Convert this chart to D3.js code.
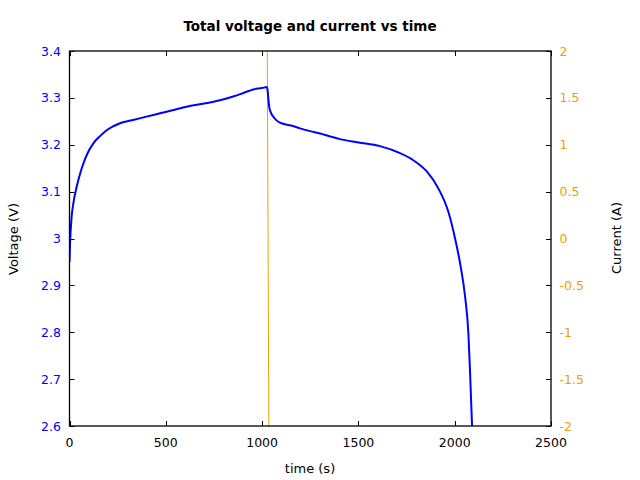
<!DOCTYPE html>
<html><head><meta charset="UTF-8">
<script src="https://d3js.org/d3.v7.min.js"></script>
<style>
  body { margin: 0; background: #fff; }
  svg text { font-family: "DejaVu Sans", sans-serif; }
</style>
</head>
<body>
<div id="body"></div>
<script>
// time (s) and voltage (V)
var v_time = [0, 3, 11, 20, 37, 55, 72, 95, 124, 160, 193, 230, 262, 300, 331, 400, 470, 540, 608, 700, 781, 850, 900, 954, 1000, 1024,
              1028, 1032, 1037, 1046, 1058, 1075, 1093, 1150, 1197, 1250, 1301, 1350, 1404, 1500, 1612, 1716, 1785, 1855, 1915,
              1967, 2002, 2028, 2054, 2071, 2080, 2090, 2094];
var v_volt = [2.95, 2.99, 3.046, 3.075, 3.110, 3.138, 3.160, 3.183, 3.203, 3.219, 3.231, 3.240, 3.246, 3.250, 3.253, 3.260, 3.267, 3.274, 3.281, 3.288, 3.295, 3.303, 3.310, 3.318, 3.321, 3.323,
              3.318, 3.300, 3.281, 3.268, 3.260, 3.252, 3.247, 3.241, 3.235, 3.229, 3.224, 3.218, 3.212, 3.205, 3.197, 3.182, 3.167, 3.143, 3.107,
              3.057, 3.000, 2.947, 2.876, 2.798, 2.712, 2.602, 2.55];
// current (A): far outside the plotted range, only the switch shows
var c_time = [0, 1021, 1041, 2094];
var c_amp = [5, 5, -5, -5];

var x_ticks = [0, 500, 1000, 1500, 2000, 2500];
var y_ticks = [2.6, 2.7, 2.8, 2.9, 3, 3.1, 3.2, 3.3, 3.4];
var y2_ticks = [-2, -1.5, -1, -0.5, 0, 0.5, 1, 1.5, 2];

var w = 640, h = 480,
    p_left = 69.5, p_right = 551, p_top = 51, p_bottom = 426,
    tick = 5;

var blue = "#0000ff", orange = "#f0a000";

var x = d3.scaleLinear().domain([0, 2500]).range([p_left, p_right]);
var y = d3.scaleLinear().domain([2.6, 3.4]).range([p_bottom, p_top]);
var y2 = d3.scaleLinear().domain([-2, 2]).range([p_bottom, p_top]);

var svg = d3.select("#body").append("svg")
    .attr("width", w)
    .attr("height", h);

svg.append("rect").attr("width", w).attr("height", h).attr("fill", "white");

svg.append("clipPath").attr("id", "plot")
  .append("rect")
    .attr("x", p_left).attr("y", p_top)
    .attr("width", p_right - p_left).attr("height", p_bottom - p_top);

var g = svg.append("g").attr("clip-path", "url(#plot)");

var c_data = c_time.map(function(t, i) { return [t, c_amp[i]]; });
g.append("path")
    .datum(c_data)
    .attr("fill", "none")
    .attr("stroke", orange)
    .attr("stroke-width", 1)
    .attr("d", d3.line().x(function(d) { return x(d[0]); }).y(function(d) { return y2(d[1]); }));

var v_data = v_time.map(function(t, i) { return [t, v_volt[i]]; });
g.append("path")
    .datum(v_data)
    .attr("fill", "none")
    .attr("stroke", blue)
    .attr("stroke-width", 2)
    .attr("stroke-linejoin", "round")
    .attr("d", d3.line().curve(d3.curveMonotoneX).x(function(d) { return x(d[0]); }).y(function(d) { return y(d[1]); }));

// ticks, drawn inward like gnuplot
var ticks = svg.append("g").attr("stroke", "black").attr("stroke-width", 1);
x_ticks.forEach(function(t) {
    var px = Math.round(x(t)) + 0.5;
    ticks.append("line").attr("x1", px).attr("x2", px).attr("y1", p_bottom).attr("y2", p_bottom - tick);
    ticks.append("line").attr("x1", px).attr("x2", px).attr("y1", p_top).attr("y2", p_top + tick);
});
y_ticks.forEach(function(t) {
    var py = Math.round(y(t)) + 0.5;
    ticks.append("line").attr("x1", p_left).attr("x2", p_left + tick).attr("y1", py).attr("y2", py);
});
y2_ticks.forEach(function(t) {
    var py = Math.round(y2(t)) + 0.5;
    ticks.append("line").attr("x1", p_right).attr("x2", p_right - tick).attr("y1", py).attr("y2", py);
});

svg.append("rect")
    .attr("x", p_left).attr("y", p_top)
    .attr("width", p_right - p_left).attr("height", p_bottom - p_top)
    .attr("fill", "none")
    .attr("stroke", "black")
    .attr("stroke-width", 1.3);

// tick labels
svg.selectAll()
    .data(x_ticks)
    .enter().append("text")
    .attr("x", function(d) { return x(d); })
    .attr("y", 447)
    .attr("font-size", 12.5)
    .style("text-anchor", "middle")
    .text(function(d) { return d; });

svg.selectAll()
    .data(y_ticks)
    .enter().append("text")
    .attr("x", 61)
    .attr("y", function(d) { return y(d) + 4.6; })
    .attr("font-size", 12.5)
    .attr("fill", blue)
    .style("text-anchor", "end")
    .text(function(d) { return d; });

svg.selectAll()
    .data(y2_ticks)
    .enter().append("text")
    .attr("x", 559.5)
    .attr("y", function(d) { return y2(d) + 4.6; })
    .attr("font-size", 12.5)
    .attr("fill", orange)
    .style("text-anchor", "start")
    .text(function(d) { return d; });

// titles
svg.append("text")
    .attr("x", 310).attr("y", 31)
    .attr("font-size", 13.5).attr("font-weight", "bold")
    .style("text-anchor", "middle")
    .text("Total voltage and current vs time");

svg.append("text")
    .attr("x", 310).attr("y", 472.5)
    .attr("font-size", 13)
    .style("text-anchor", "middle")
    .text("time (s)");

svg.append("text")
    .attr("transform", "translate(18,239) rotate(-90)")
    .attr("font-size", 13)
    .style("text-anchor", "middle")
    .text("Voltage (V)");

svg.append("text")
    .attr("transform", "translate(621,238) rotate(-90)")
    .attr("font-size", 13)
    .style("text-anchor", "middle")
    .text("Current (A)");
</script>
</body></html>
